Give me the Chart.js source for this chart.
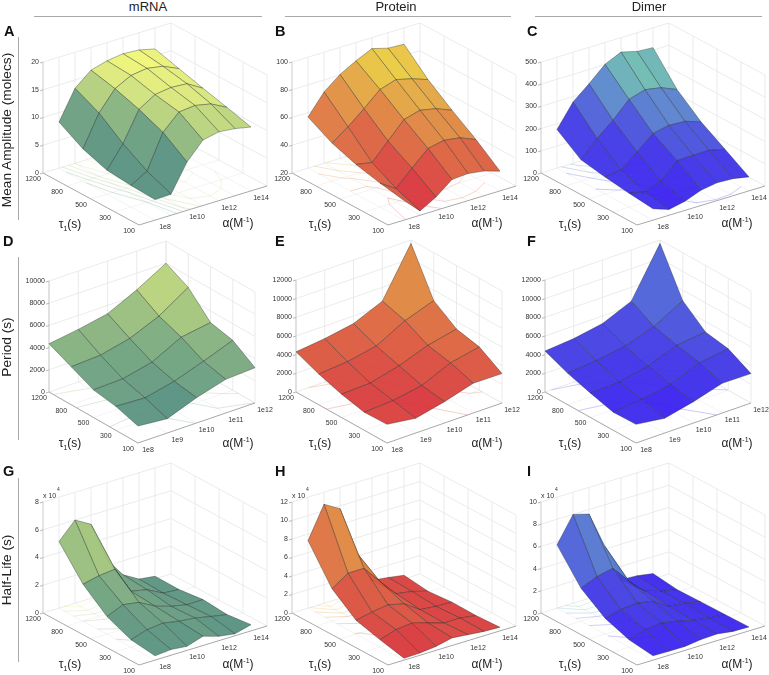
<!DOCTYPE html>
<html>
<head>
<meta charset="utf-8">
<title>Oscillator parameter surfaces</title>
<script src="https://cdn.jsdelivr.net/npm/chart.js@4/dist/chart.umd.js"></script>
<style>
  body { margin: 0; background: #fff; font-family: "Liberation Sans", Arial, sans-serif; color: #222; }
  #page { position: relative; width: 769px; height: 675px; overflow: hidden; }
  #page canvas { position: absolute; }
  .txt { position: absolute; white-space: nowrap; line-height: 1; }
  .col { font-size: 13px; transform: translateX(-50%); }
  .letter { font-size: 14.5px; font-weight: bold; color: #111; }
  .row { font-size: 13.7px; transform: translate(-50%, -50%) rotate(-90deg); }
  .axis { font-size: 12px; transform: translate(-50%, -50%); }
  .axis sub, .axis sup { font-size: 7px; line-height: 0; }
  .rule { position: absolute; background: #aaa; }
</style>
</head>
<body>
<div id="page"></div>
<script>
// rows run tau = 1200 -> 100, columns run alpha low -> high
const tauLabels = ['1200', '800', '500', '300', '100'];
const alphaLabelsWide = ['1e8', '', '1e10', '', '1e12', '', '1e14'];
const alphaLabelsNarrow = ['1e8', '1e9', '1e10', '1e11', '1e12'];

const ampMrna = [
  [8.3, 13.5, 15.9, 16.7, 17.1, 16.9, 16.2],
  [5.8, 11.4, 14.9, 16.4, 16.8, 16.3, 15.0],
  [4.3, 8.2, 13.5, 15.3, 15.7, 15.5, 13.8],
  [3.9, 5.6, 11.7, 14.5, 14.8, 14.2, 12.7],
  [3.7, 3.8, 8.7, 11.8, 12.4, 12.1, 11.5],
];
const ampProtein = [
  [56.8, 71.4, 80.5, 86.8, 92.1, 88.9, 88.2],
  [47.4, 55.6, 65.2, 75.5, 79.1, 76.2, 72.1],
  [41.4, 39.2, 51.2, 63.2, 66.4, 64, 59.4],
  [37.3, 29.8, 41.1, 51.7, 54.1, 52.4, 47.6],
  [34.2, 23.1, 29.6, 38.7, 39.5, 37.8, 34.2],
];
const ampDimer = [
  [174, 276, 336, 402, 435, 416, 411],
  [96, 170, 230, 302, 324, 311, 281],
  [77, 86, 146, 207, 222, 218, 194],
  [63, 47, 72, 143, 146, 146, 129],
  [51, 26, 41, 69, 80, 77, 63],
];
const periodMrna = [
  [4350, 4740, 5250, 6500, 8000],
  [3420, 3570, 4170, 5280, 6970],
  [2490, 2580, 3180, 4530, 4950],
  [2160, 2010, 2610, 3510, 4500],
  [1530, 1290, 2280, 3030, 3180],
];
const periodProtein = [
  [4300, 4650, 5190, 6520, 11640],
  [3290, 3540, 4150, 5800, 6870],
  [2500, 2610, 3400, 4510, 5190],
  [1930, 2110, 2650, 4010, 4650],
  [2000, 1580, 2290, 3190, 3150],
];
const periodDimer = [
  [4400, 4650, 5190, 6520, 11640],
  [3370, 3650, 4150, 5160, 6870],
  [2610, 2690, 3330, 4510, 4870],
  [1930, 2220, 2760, 4010, 4440],
  [2000, 1580, 2290, 3190, 3150],
];
// half-life values are in units of 1e4 s
const halfMrna = [
  [4.8, 6.0, 5.34, 2.44, 1.0, 0.34, 0.19],
  [2.66, 2.92, 3.04, 1.1, 0.86, 0.26, 0.17],
  [1.27, 1.77, 1.58, 0.96, 0.6, 0.36, 0.38],
  [0.53, 0.91, 1.03, 0.81, 0.69, 0.45, 0.24],
  [0.31, 0.41, 0.29, 0.67, 0.31, 0.14, 0.45],
];
const halfProtein = [
  [7.3, 10.7, 9.7, 4.5, 0.9, 0.68, 0.39],
  [3.5, 4.65, 4.65, 2.7, 0.86, 0.57, 0.07],
  [1.5, 1.86, 2.1, 1.7, 0.54, 0.36, 0.29],
  [0.8, 1.36, 1.54, 1.04, 0.5, 0.5, 0.25],
  [0.2, 0.25, 0.43, 0.82, 0.64, 0.47, 0.39],
];
const halfDimer = [
  [5.7, 8.0, 7.6, 4.24, 0.81, 0.72, 0.48],
  [2.96, 3.58, 3.88, 2.27, 0.93, 0.48, 0.21],
  [1.43, 1.76, 1.91, 1.64, 0.75, 0.6, 0.27],
  [0.66, 1.13, 1.28, 1.01, 0.66, 0.42, 0.3],
  [0.39, 0.36, 0.36, 0.54, 0.6, 0.39, 0.36],
];

const ticksAmpMrna = [0, 5, 10, 15, 20];
const ticksAmpProtein = [20, 40, 60, 80, 100];
const ticksAmpDimer = [0, 100, 200, 300, 400, 500];
const ticksPeriodMrna = [0, 2000, 4000, 6000, 8000, 10000];
const ticksPeriod = [0, 2000, 4000, 6000, 8000, 10000, 12000];
const ticksHalfMrna = [0, 2, 4, 6, 8];
const ticksHalfProtein = [0, 2, 4, 6, 8, 10, 12];
const ticksHalfDimer = [0, 2, 4, 6, 8, 10];

const greens = ['#569080', '#76a77e', '#a5c77a', '#d2e37c', '#f2f776'];
const reds = ['#d8363c', '#dc643e', '#e09440', '#e8c040', '#f0e83c'];
const blues = ['#3a22f0', '#4445e0', '#5a88cc', '#70c0ae', '#80e0a0'];

// box geometry per row, page pixels: u = left->front corner, v = front->right corner, h = z height
const wideBox = { u: [96, 52], v: [128, -39], h: 111, cells: 8, first: 1 };
const narrowD = { u: [89, 51], v: [117, -40], h: 111, cells: 4, first: 0 };
const narrowE = { u: [91, 51], v: [115, -40], h: 112, cells: 4, first: 0 };

const panels = [
  { id: 'A', values: ampMrna, ticks: ticksAmpMrna, cmap: greens, box: wideBox, L: [43, 173], frame: [0, 14, 280, 222], alpha: alphaLabelsWide },
  { id: 'B', values: ampProtein, ticks: ticksAmpProtein, cmap: reds, box: wideBox, L: [292, 173], frame: [250, 14, 280, 222], alpha: alphaLabelsWide },
  { id: 'C', values: ampDimer, ticks: ticksAmpDimer, cmap: blues, box: wideBox, L: [541, 173], frame: [500, 14, 269, 222], alpha: alphaLabelsWide },
  { id: 'D', values: periodMrna, ticks: ticksPeriodMrna, cmap: greens, box: narrowD, L: [49, 392], frame: [0, 236, 280, 220], alpha: alphaLabelsNarrow },
  { id: 'E', values: periodProtein, ticks: ticksPeriod, cmap: reds, box: narrowE, L: [296, 392], frame: [250, 236, 280, 220], alpha: alphaLabelsNarrow },
  { id: 'F', values: periodDimer, ticks: ticksPeriod, cmap: blues, box: narrowE, L: [545, 392], frame: [500, 236, 269, 220], alpha: alphaLabelsNarrow },
  { id: 'G', values: halfMrna, ticks: ticksHalfMrna, cmap: greens, box: wideBox, L: [43, 613], frame: [0, 456, 280, 219], alpha: alphaLabelsWide, exp: true },
  { id: 'H', values: halfProtein, ticks: ticksHalfProtein, cmap: reds, box: wideBox, L: [292, 613], frame: [250, 456, 280, 219], alpha: alphaLabelsWide, exp: true },
  { id: 'I', values: halfDimer, ticks: ticksHalfDimer, cmap: blues, box: wideBox, L: [541, 613], frame: [500, 456, 269, 219], alpha: alphaLabelsWide, exp: true },
];

function hexRgb(c) {
  return [1, 3, 5].map(k => parseInt(c.slice(k, k + 2), 16));
}

function cmapColor(stops, t, a) {
  const p = Math.min(Math.max(t, 0), 0.9999) * (stops.length - 1);
  const k = Math.floor(p);
  const c0 = hexRgb(stops[k]), c1 = hexRgb(stops[k + 1]);
  const c = c0.map((v, n) => Math.round(v + (c1[n] - v) * (p - k)));
  return `rgba(${c[0]},${c[1]},${c[2]},${a})`;
}

// tau index i (0..4), alpha cell j (0..cells), z in data units -> page pixels
function project(p, i, j, z) {
  const b = p.box;
  const zMin = p.ticks[0], zMax = p.ticks[p.ticks.length - 1];
  return {
    x: p.L[0] + b.u[0] * i / 4 + b.v[0] * j / b.cells,
    y: p.L[1] + b.u[1] * i / 4 + b.v[1] * j / b.cells - (z - zMin) / (zMax - zMin) * b.h,
  };
}

function lineDs(data, color, width) {
  return { data, showLine: true, borderColor: color, borderWidth: width, pointRadius: 0, tension: 0, fill: false, spanGaps: false };
}

function gridDatasets(p) {
  const b = p.box, zMin = p.ticks[0], zMax = p.ticks[p.ticks.length - 1];
  const out = [];
  const grid = '#e6e6e6';
  const floor = '#efefef';
  p.alpha.forEach((_, n) => {
    const j = n + b.first;
    out.push(lineDs([project(p, 0, j, zMin), project(p, 4, j, zMin)], floor, 0.7));
  });
  for (let i = 1; i <= 3; i++) {
    out.push(lineDs([project(p, i, 0, zMin), project(p, i, b.cells, zMin)], floor, 0.7));
  }
  p.ticks.forEach(t => {
    out.push(lineDs([project(p, 0, 0, t), project(p, 0, b.cells, t), project(p, 4, b.cells, t)], grid, 0.8));
  });
  p.alpha.forEach((_, n) => {
    const j = n + b.first;
    out.push(lineDs([project(p, 0, j, zMin), project(p, 0, j, zMax)], grid, 0.8));
  });
  out.push(lineDs([project(p, 0, b.cells, zMin), project(p, 0, b.cells, zMax)], grid, 0.8));
  for (let i = 1; i <= 4; i++) {
    out.push(lineDs([project(p, i, b.cells, zMin), project(p, i, b.cells, zMax)], grid, 0.8));
  }
  return out;
}

function axisDatasets(p) {
  const b = p.box, zMin = p.ticks[0], zMax = p.ticks[p.ticks.length - 1];
  const edge = '#a8a8a8';
  const out = [
    lineDs([project(p, 0, 0, zMin), project(p, 4, 0, zMin), project(p, 4, b.cells, zMin)], edge, 1),
    lineDs([project(p, 0, 0, zMin), project(p, 0, 0, zMax)], '#d4d4d4', 1.2),
  ];
  p.ticks.forEach(t => {
    const a = project(p, 0, 0, t);
    out.push(lineDs([a, { x: a.x - 3, y: a.y + 1 }], edge, 0.8));
  });
  return out;
}

// marching squares over the value grid, drawn flat on the floor of the box
function contourDatasets(p) {
  const v = p.values, b = p.box, zMin = p.ticks[0];
  const flat = v.flat();
  const lo = Math.min(...flat), hi = Math.max(...flat);
  const out = [];
  for (let n = 1; n <= 6; n++) {
    const level = lo + (hi - lo) * n / 7;
    const pts = [];
    for (let i = 0; i < v.length - 1; i++) {
      for (let j = 0; j < v[0].length - 1; j++) {
        const corners = [[i, j], [i, j + 1], [i + 1, j + 1], [i + 1, j]];
        const hits = [];
        corners.forEach((c, k) => {
          const d = corners[(k + 1) % 4];
          const z0 = v[c[0]][c[1]], z1 = v[d[0]][d[1]];
          if ((z0 < level) !== (z1 < level)) {
            const f = (level - z0) / (z1 - z0);
            hits.push(project(p, c[0] + (d[0] - c[0]) * f, c[1] + (d[1] - c[1]) * f + b.first, zMin));
          }
        });
        for (let h = 0; h + 1 < hits.length; h += 2) {
          pts.push(hits[h], hits[h + 1], { x: NaN, y: NaN });
        }
      }
    }
    out.push(lineDs(pts, cmapColor(p.cmap, n / 7, 0.45), 0.6));
  }
  return out;
}

// painter's order: far corner (tau 1200, high alpha) first
// each face takes the colour of its low-alpha corner on the 100 s side, like flat shading
function surfaceDatasets(p) {
  const v = p.values, b = p.box;
  const flat = v.flat();
  const lo = Math.min(...flat), hi = Math.max(...flat);
  const out = [];
  for (let i = 0; i < v.length - 1; i++) {
    for (let j = v[0].length - 2; j >= 0; j--) {
      const quad = [[i, j], [i, j + 1], [i + 1, j + 1], [i + 1, j], [i, j]];
      out.push({
        data: quad.map(c => project(p, c[0], c[1] + b.first, v[c[0]][c[1]])),
        showLine: true,
        tension: 0,
        pointRadius: 0,
        fill: 'shape',
        backgroundColor: cmapColor(p.cmap, (v[i + 1][j] - lo) / (hi - lo), 0.95),
        borderColor: 'rgba(30,40,40,0.6)',
        borderWidth: 0.6,
      });
    }
  }
  return out;
}

const tickText = {
  id: 'tickText',
  afterDraw(chart, args, opts) {
    const p = opts.panel, b = p.box, ctx = chart.ctx;
    const sx = chart.scales.x, sy = chart.scales.y;
    const zMin = p.ticks[0];
    ctx.save();
    ctx.font = '7px "Liberation Sans", Arial, sans-serif';
    ctx.fillStyle = '#333';
    ctx.textBaseline = 'middle';
    ctx.textAlign = 'right';
    p.ticks.forEach(t => {
      const a = project(p, 0, 0, t);
      ctx.fillText(String(t), sx.getPixelForValue(a.x - 4), sy.getPixelForValue(a.y));
    });
    ctx.textAlign = 'center';
    tauLabels.forEach((t, i) => {
      const a = project(p, i, 0, zMin);
      ctx.fillText(t, sx.getPixelForValue(a.x - 10), sy.getPixelForValue(a.y + 6));
    });
    p.alpha.forEach((t, n) => {
      if (!t) return;
      const a = project(p, 4, n + b.first, zMin);
      ctx.fillText(t, sx.getPixelForValue(a.x + 10), sy.getPixelForValue(a.y + 7));
    });
    if (p.exp) {
      const a = project(p, 0, 0, p.ticks[p.ticks.length - 1]);
      ctx.textAlign = 'left';
      ctx.fillText('x 10', sx.getPixelForValue(a.x), sy.getPixelForValue(a.y - 6));
      ctx.font = '5px "Liberation Sans", Arial, sans-serif';
      ctx.fillText('4', sx.getPixelForValue(a.x + 14), sy.getPixelForValue(a.y - 12));
    }
    ctx.restore();
  },
};

const page = document.getElementById('page');

function addText(cls, html, x, y) {
  const el = document.createElement('div');
  el.className = 'txt ' + cls;
  el.innerHTML = html;
  el.style.left = x + 'px';
  el.style.top = y + 'px';
  page.appendChild(el);
}

function addRule(x, y, w, h) {
  const el = document.createElement('div');
  el.className = 'rule';
  el.style.cssText = `left:${x}px;top:${y}px;width:${w}px;height:${h}px`;
  page.appendChild(el);
}

panels.forEach(p => {
  const [fx, fy, fw, fh] = p.frame;
  const canvas = document.createElement('canvas');
  canvas.style.left = fx + 'px';
  canvas.style.top = fy + 'px';
  canvas.style.width = fw + 'px';
  canvas.style.height = fh + 'px';
  canvas.width = fw;
  canvas.height = fh;
  page.appendChild(canvas);
  // first dataset paints on top in Chart.js, so the list is reversed
  const datasets = [...gridDatasets(p), ...contourDatasets(p), ...axisDatasets(p), ...surfaceDatasets(p)].reverse();
  new Chart(canvas, {
    type: 'scatter',
    data: { datasets },
    plugins: [tickText],
    options: {
      responsive: false,
      animation: false,
      layout: { padding: 0 },
      plugins: { legend: { display: false }, tooltip: { enabled: false }, tickText: { panel: p } },
      scales: {
        x: { type: 'linear', display: false, min: fx, max: fx + fw },
        y: { type: 'linear', display: false, min: fy, max: fy + fh, reverse: true },
      },
    },
  });
});

addText('col', 'mRNA', 148, 0);
addText('col', 'Protein', 396, 0);
addText('col', 'Dimer', 649, 0);
addRule(34, 16, 228, 1);
addRule(285, 16, 226, 1);
addRule(535, 16, 227, 1);

[['A', 4, 24], ['B', 275, 24], ['C', 527, 24], ['D', 3, 234], ['E', 275, 234], ['F', 527, 234], ['G', 3, 464], ['H', 275, 464], ['I', 527, 464]]
  .forEach(l => addText('letter', l[0], l[1], l[2]));

addText('row', 'Mean Amplitude (molecs)', 7, 130);
addText('row', 'Period (s)', 7, 347);
addText('row', 'Half-Life (s)', 7, 570);
addRule(18, 37, 1, 183);
addRule(18, 257, 1, 183);
addRule(18, 478, 1, 184);

[[70, 224, 238, 223], [320, 224, 487, 223], [570, 224, 737, 223],
 [70, 443, 238, 443], [320, 443, 487, 443], [570, 443, 737, 443],
 [70, 664, 238, 664], [320, 664, 487, 664], [570, 664, 737, 664]].forEach(a => {
  addText('axis', 'τ<sub>1</sub>(s)', a[0], a[1]);
  addText('axis', 'α(M<sup>-1</sup>)', a[2], a[3]);
});
</script>
</body>
</html>
